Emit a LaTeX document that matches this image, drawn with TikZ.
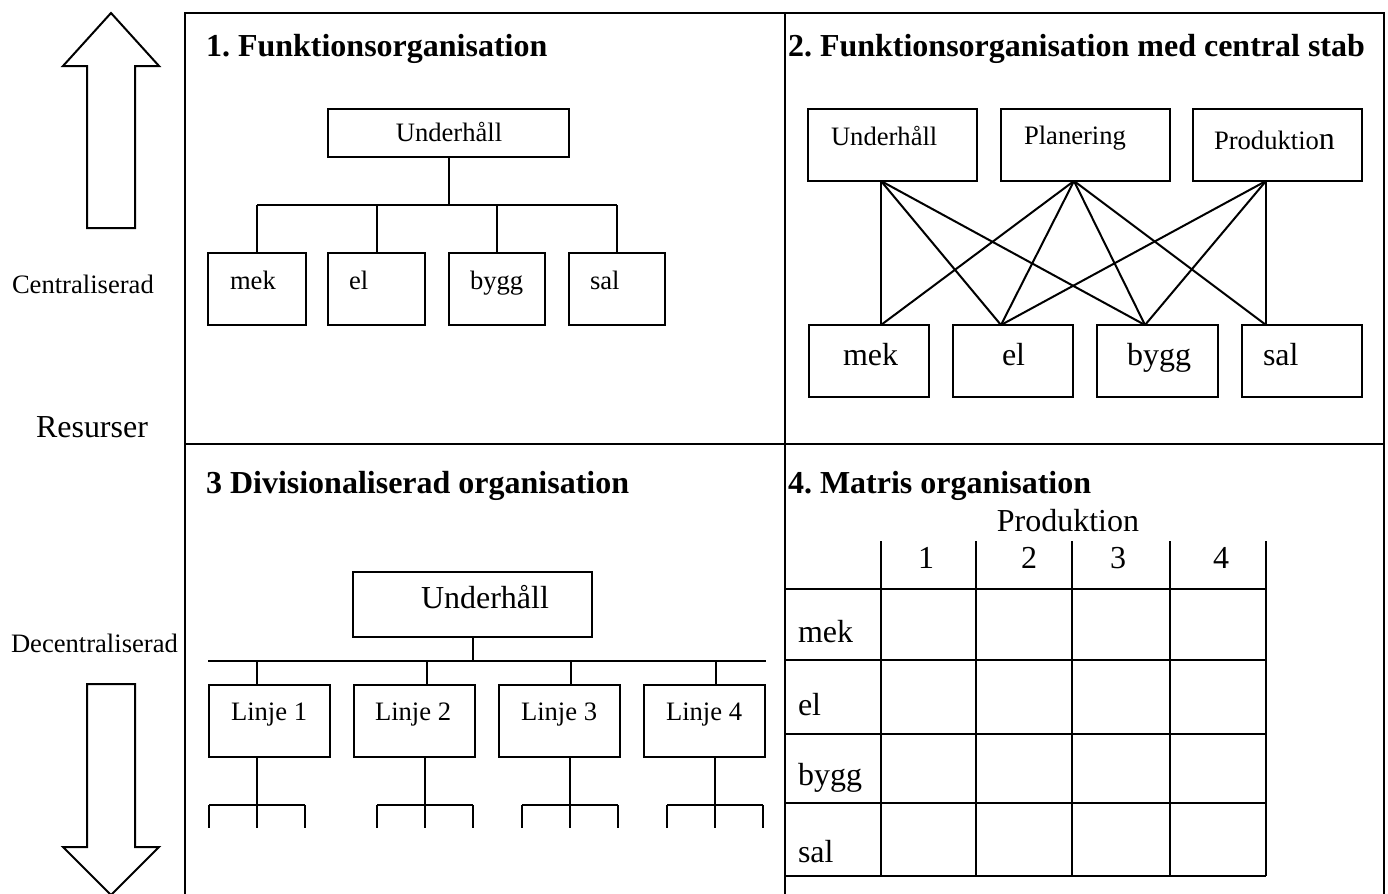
\documentclass[tikz,border=0pt]{standalone}
\usepackage{fontspec}
\setmainfont{Liberation Serif}
\usetikzlibrary{positioning, fit, calc}
\frenchspacing

\begin{document}
\begin{tikzpicture}[
        % 1 unit = 1 pixel of the sheet, y runs downwards
        x=0.5pt, y=-0.5pt,
        line width=1pt,
        box/.style={
            rectangle,
            draw,
            inner sep=0pt,
            line width=1pt
        },
        small_text/.style={
            inner sep=0pt,
            anchor=base west,
            font=\fontsize{13.3}{16}\selectfont
        },
        big_text/.style={
            inner sep=0pt,
            anchor=base west,
            font=\fontsize{16}{19}\selectfont
        },
        title_text/.style={
            inner sep=0pt,
            anchor=base west,
            font=\bfseries\fontsize{16}{19}\selectfont
        },
        frame/.style={line width=1.2pt}
    ]
    \useasboundingbox (0,0) rectangle (1388,894);

    % --- 0. RAM OCH PILAR ---
    \draw[frame] (185,894) -- (185,13) -- (1384,13) -- (1384,894);
    \draw[frame] (785,13) -- (785,894);
    \draw[frame] (185,444) -- (1384,444);

    \draw (87,228) -- (87,66) -- (63,66) -- (111,13) -- (159,66) -- (135,66) -- (135,228) -- cycle;
    \draw (87,684) -- (87,847) -- (63,847) -- (111,895) -- (159,847) -- (135,847) -- (135,684) -- cycle;

    \node[small_text] (central) at (11,293) {Centraliserad};
    \node[big_text] (resurser) at (35,437) {Resurser};
    \node[small_text] (decentral) at (10,652) {Decentraliserad};

    % --- 1. FUNKTIONSORGANISATION ---
    \node[title_text] (title1) at (205,56) {1. Funktionsorganisation};

    \node[box, fit={(328,109) (569,157)}] (maint1) {};
    \node[small_text, anchor=base] (maint1Txt) at (449,141) {Underhåll};

    \node[box, fit={(208,253) (306,325)}] (mek1) {};
    \node[box, fit={(328,253) (425,325)}] (el1) {};
    \node[box, fit={(449,253) (545,325)}] (bygg1) {};
    \node[box, fit={(569,253) (665,325)}] (sal1) {};
    \node[small_text] (mek1Txt) at (229,289) {mek};
    \node[small_text] (el1Txt) at (348,289) {el};
    \node[small_text] (bygg1Txt) at (469,289) {bygg};
    \node[small_text] (sal1Txt) at (589,289) {sal};

    \coordinate (bus1) at (449,205);
    \draw (maint1.south) -- (maint1.south |- bus1);
    \draw (mek1.north |- bus1) -- (sal1.north |- bus1);
    \foreach \b in {mek1, el1, bygg1, sal1}
        \draw (\b.north |- bus1) -- (\b.north);

    % --- 2. FUNKTIONSORGANISATION MED CENTRAL STAB ---
    \node[title_text] (title2) at (787,56) {2. Funktionsorganisation med central stab};

    \node[box, fit={(808,109) (977,181)}] (maint2) {};
    \node[box, fit={(1001,109) (1170,181)}] (plan2) {};
    \node[box, fit={(1193,109) (1362,181)}] (prod2) {};
    \node[small_text] (maint2Txt) at (830,145) {Underhåll};
    \node[small_text] (plan2Txt) at (1023,144) {Planering};
    \node[small_text] (prod2Txt) at (1213,149) {Produktio{\fontsize{16}{19}\selectfont n}};

    \node[box, fit={(809,325) (929,397)}] (mek2) {};
    \node[box, fit={(953,325) (1073,397)}] (el2) {};
    \node[box, fit={(1097,325) (1218,397)}] (bygg2) {};
    \node[box, fit={(1242,325) (1362,397)}] (sal2) {};
    \node[big_text] (mek2Txt) at (842,365) {mek};
    \node[big_text] (el2Txt) at (1001,365) {el};
    \node[big_text] (bygg2Txt) at (1126,365) {bygg};
    \node[big_text] (sal2Txt) at (1262,365) {sal};

    % anslutningspunkter
    \coordinate (maint2B) at (881,181);
    \coordinate (plan2B) at (1074,181);
    \coordinate (prod2B) at (1266,181);
    \coordinate (mek2T) at (881,325);
    \coordinate (el2T) at (1001,325);
    \coordinate (bygg2T) at (1145,325);
    \coordinate (sal2T) at (1266,325);

    \foreach \t in {mek2T, el2T, bygg2T}
        \draw (maint2B) -- (\t);
    \foreach \t in {mek2T, el2T, bygg2T, sal2T}
        \draw (plan2B) -- (\t);
    \foreach \t in {el2T, bygg2T, sal2T}
        \draw (prod2B) -- (\t);

    % --- 3. DIVISIONALISERAD ORGANISATION ---
    \node[title_text] (title3) at (205,493) {3 Divisionaliserad organisation};

    \node[box, fit={(353,572) (592,637)}] (maint3) {};
    \node[big_text] (maint3Txt) at (420,608) {Underhåll};

    \coordinate (bus3L) at (208,661);
    \coordinate (bus3R) at (766,661);
    \draw (maint3.south) -- (maint3.south |- bus3L);
    \draw (bus3L) -- (bus3R);

    \foreach \n/\l/\r/\x/\tx in {1/209/330/257/230, 2/354/475/427/374, 3/499/620/571/520, 4/644/765/716/665} {
        \node[box, fit={(\l,685) (\r,757)}] (line\n) {};
        \node[small_text] (line\n Txt) at (\tx,720) {Linje \n};
        \draw (line\n.north -| \x,0) -- (bus3L -| \x,0);
    }

    % underliggande nivå
    \foreach \n/\x in {1/257, 2/425, 3/570, 4/715} {
        \coordinate (sub\n) at (\x,805);
        \draw (line\n.south -| sub\n) -- (sub\n);
        \draw ($(sub\n)+(-48,0)$) -- ($(sub\n)+(48,0)$);
        \foreach \dx in {-48,0,48}
            \draw ($(sub\n)+(\dx,0)$) -- ++(0,23);
    }

    % --- 4. MATRIS ORGANISATION ---
    \node[title_text] (title4) at (787,493) {4. Matris organisation};
    \node[big_text, anchor=base] (prodHead) at (1068,531) {Produktion};

    \foreach \y in {589,660,734,803,876}
        \draw (785,\y) -- (1266,\y);
    \foreach \x in {881,976,1072,1170,1266}
        \draw (\x,541) -- (\x,876);

    \foreach \c/\x in {1/926, 2/1029, 3/1118, 4/1221}
        \node[big_text, anchor=base] (col\c) at (\x,568) {\c};

    \node[big_text] (rowMek) at (797,642) {mek};
    \node[big_text] (rowEl) at (797,715) {el};
    \node[big_text] (rowBygg) at (797,785) {bygg};
    \node[big_text] (rowSal) at (797,862) {sal};

\end{tikzpicture}
\end{document}
